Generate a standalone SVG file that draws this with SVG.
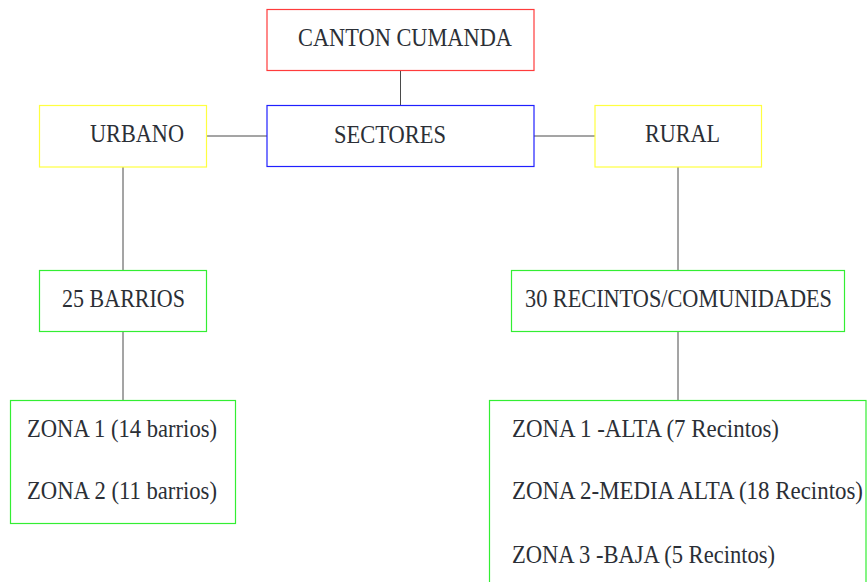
<svg xmlns="http://www.w3.org/2000/svg" width="867" height="582" viewBox="0 0 867 582">
<style>
  .box { fill: #ffffff; stroke-width: 1.2; }
  .red { stroke: #ff3b3b; }
  .blue { stroke: #2020ff; }
  .yellow { stroke: #ffff40; }
  .green { stroke: #33ee33; }
  .lbl { font-family: "Liberation Serif", "Times New Roman", serif; font-size: 22.5px; fill: #2b2f36; }
  .conn line { stroke: #4a4a4a; stroke-width: 1; }
</style>
<rect width="867" height="582" fill="#ffffff"/>
<g id="connectors" class="conn">
  <line x1="400.5" y1="71" x2="400.5" y2="105"/>
  <line x1="207" y1="136" x2="267" y2="136"/>
  <line x1="534" y1="136" x2="595" y2="136"/>
  <line x1="123" y1="167" x2="123" y2="270"/>
  <line x1="678" y1="167" x2="678" y2="270"/>
  <line x1="123" y1="332" x2="123" y2="400"/>
  <line x1="678" y1="332" x2="678" y2="400"/>
</g>
<g id="canton">
  <rect class="box red" x="267" y="9.5" width="267" height="61"/>
  <text class="lbl" transform="matrix(1 0 0 1.14 298 46)" textLength="214" lengthAdjust="spacingAndGlyphs">CANTON CUMANDA</text>
</g>
<g id="sectores">
  <rect class="box blue" x="267" y="105.5" width="267" height="61"/>
  <text class="lbl" transform="matrix(1 0 0 1.14 334 142.5)" textLength="112" lengthAdjust="spacingAndGlyphs">SECTORES</text>
</g>
<g id="urbano">
  <rect class="box yellow" x="39.5" y="105.5" width="167" height="61.5"/>
  <text class="lbl" transform="matrix(1 0 0 1.14 90 142.3)" textLength="94" lengthAdjust="spacingAndGlyphs">URBANO</text>
</g>
<g id="rural">
  <rect class="box yellow" x="595" y="105.5" width="166.5" height="61.5"/>
  <text class="lbl" transform="matrix(1 0 0 1.14 645 142.3)" textLength="75" lengthAdjust="spacingAndGlyphs">RURAL</text>
</g>
<g id="barrios">
  <rect class="box green" x="39.5" y="270.5" width="167" height="61"/>
  <text class="lbl" transform="matrix(1 0 0 1.14 62 306.8)" textLength="123" lengthAdjust="spacingAndGlyphs">25 BARRIOS</text>
</g>
<g id="recintos">
  <rect class="box green" x="511.5" y="270.5" width="333" height="61"/>
  <text class="lbl" transform="matrix(1 0 0 1.14 525 306.8)" textLength="307" lengthAdjust="spacingAndGlyphs">30 RECINTOS/COMUNIDADES</text>
</g>
<g id="zonas-urbano">
  <rect class="box green" x="10.5" y="400.5" width="225" height="123"/>
  <text class="lbl" transform="matrix(1 0 0 1.14 27 436.7)" textLength="190" lengthAdjust="spacingAndGlyphs">ZONA 1 (14 barrios)</text>
  <text class="lbl" transform="matrix(1 0 0 1.14 27 499)" textLength="190" lengthAdjust="spacingAndGlyphs">ZONA 2 (11 barrios)</text>
</g>
<g id="zonas-rural">
  <rect class="box green" x="489.5" y="400.5" width="376.5" height="190"/>
  <text class="lbl" transform="matrix(1 0 0 1.14 512 436.7)" textLength="267" lengthAdjust="spacingAndGlyphs">ZONA 1 -ALTA (7 Recintos)</text>
  <text class="lbl" transform="matrix(1 0 0 1.14 512 499)" textLength="351" lengthAdjust="spacingAndGlyphs">ZONA 2-MEDIA ALTA (18 Recintos)</text>
  <text class="lbl" transform="matrix(1 0 0 1.14 512 562.5)" textLength="263" lengthAdjust="spacingAndGlyphs">ZONA 3 -BAJA (5 Recintos)</text>
</g>
</svg>
